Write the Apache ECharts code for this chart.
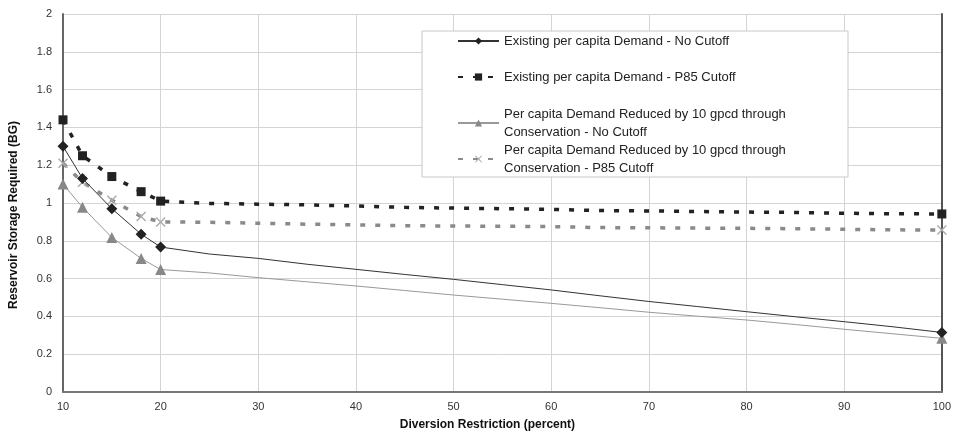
<!DOCTYPE html>
<html>
<head>
<meta charset="utf-8">
<script src="https://cdn.jsdelivr.net/npm/echarts@6/dist/echarts.min.js"></script>
<style>html,body{margin:0;padding:0;background:#fff;}#c{width:954px;height:437px;}</style>
</head>
<body>
<div id="c"></div>
<script>
var xValues = [10, 12, 15, 18, 20, 25, 30, 35, 40, 45, 50, 55, 60, 65, 70, 75, 80, 85, 90, 95, 100];
var markedX = [10, 12, 15, 18, 20, 100];
var existingNoCutoff = [1.30, 1.13, 0.97, 0.835, 0.767, 0.73, 0.707, 0.676, 0.649, 0.622, 0.596, 0.568, 0.54, 0.509, 0.479, 0.452, 0.425, 0.398, 0.372, 0.345, 0.315];
var existingP85 = [1.44, 1.25, 1.14, 1.06, 1.01, 0.998, 0.994, 0.99, 0.984, 0.977, 0.973, 0.97, 0.966, 0.96, 0.958, 0.955, 0.952, 0.95, 0.946, 0.943, 0.942];
var reducedNoCutoff = [1.10, 0.977, 0.818, 0.707, 0.648, 0.63, 0.605, 0.583, 0.561, 0.537, 0.513, 0.491, 0.469, 0.446, 0.422, 0.401, 0.381, 0.357, 0.332, 0.308, 0.284];
var reducedP85 = [1.21, 1.11, 1.015, 0.928, 0.90, 0.898, 0.893, 0.888, 0.884, 0.88, 0.878, 0.877, 0.875, 0.87, 0.869, 0.867, 0.866, 0.864, 0.861, 0.858, 0.857];
var seriesNames = [
  'Existing per capita Demand - No Cutoff',
  'Existing per capita Demand - P85 Cutoff',
  'Per capita Demand Reduced by 10 gpcd through\nConservation - No Cutoff',
  'Per capita Demand Reduced by 10 gpcd through\nConservation - P85 Cutoff'
];

function build(values) {
  return xValues.map(function (x, i) {
    var item = { value: [x, values[i]] };
    if (markedX.indexOf(x) < 0) { item.symbol = 'none'; }
    return item;
  });
}

var crossPath = 'path://M0,1 L1,0 L5,4 L9,0 L10,1 L6,5 L10,9 L9,10 L5,6 L1,10 L0,9 L4,5 Z';
var font = 'Liberation Sans, Arial, sans-serif';

var chart = echarts.init(document.getElementById('c'), null, { renderer: 'canvas' });

function legendAt(name, top) {
  return {
    data: [name], left: 457, top: top, orient: 'vertical', padding: 0,
    itemWidth: 41, itemHeight: 9, z: 6,
    selectedMode: false,
    textStyle: { fontFamily: font, fontSize: 13, color: '#222', lineHeight: 18, padding: [0, 0, 0, 0] }
  };
}

chart.setOption({
  animation: false,
  backgroundColor: '#fff',
  grid: { left: 61, right: 8, top: 14, bottom: 45 },
  graphic: [{
    type: 'rect', z: 5, silent: true,
    shape: { x: 422, y: 31, width: 426, height: 146 },
    style: { fill: '#fff', stroke: '#c8c8c8', lineWidth: 1 }
  }],
  legend: [
    legendAt(seriesNames[0], 32),
    legendAt(seriesNames[1], 68),
    legendAt(seriesNames[2], 105),
    legendAt(seriesNames[3], 141)
  ],
  xAxis: {
    type: 'value', min: 10, max: 100, interval: 10,
    name: 'Diversion Restriction (percent)', nameLocation: 'middle', nameGap: 27,
    nameTextStyle: { fontFamily: font, fontSize: 12, fontWeight: 'bold', color: '#111', padding: [0, 30, 0, 0] },
    axisLine: { lineStyle: { color: '#777', width: 2 } },
    axisTick: { show: false },
    axisLabel: { fontFamily: font, fontSize: 11, color: '#333', margin: 9 },
    splitLine: { show: true, lineStyle: { color: '#d4d4d4', width: 1 } }
  },
  yAxis: [{
    type: 'value', min: 0, max: 2, interval: 0.2,
    name: 'Reservoir Storage Required (BG)', nameLocation: 'middle', nameGap: 43,
    nameTextStyle: { fontFamily: font, fontSize: 12, fontWeight: 'bold', color: '#111', padding: [0, 24, 0, 0] },
    axisLine: { show: true, lineStyle: { color: '#666', width: 2 } },
    axisTick: { show: false },
    axisLabel: { fontFamily: font, fontSize: 11, color: '#333', margin: 11 },
    splitLine: { show: true, lineStyle: { color: '#d4d4d4', width: 1 } }
  }, {
    type: 'value', min: 0, max: 2, interval: 0.2, position: 'right',
    axisLine: { show: true, lineStyle: { color: '#555', width: 2 } },
    axisTick: { show: false }, axisLabel: { show: false }, splitLine: { show: false }
  }],
  series: [{
    name: seriesNames[0], type: 'line', data: build(existingNoCutoff),
    symbol: 'diamond', symbolSize: 11, z: 4,
    lineStyle: { color: '#333', width: 1 },
    itemStyle: { color: '#222' }
  }, {
    name: seriesNames[1], type: 'line', data: build(existingP85),
    symbol: 'rect', symbolSize: 9, z: 3,
    lineStyle: { color: '#222', width: 3.5, type: [5, 10] },
    itemStyle: { color: '#222' }
  }, {
    name: seriesNames[2], type: 'line', data: build(reducedNoCutoff),
    symbol: 'triangle', symbolSize: 11, z: 2,
    lineStyle: { color: '#999', width: 1 },
    itemStyle: { color: '#888' }
  }, {
    name: seriesNames[3], type: 'line', data: build(reducedP85),
    symbol: crossPath, symbolSize: 10, z: 2,
    lineStyle: { color: '#8a8a8a', width: 3.5, type: [5, 10] },
    itemStyle: { color: '#aaa' }
  }]
});
</script>
</body>
</html>
